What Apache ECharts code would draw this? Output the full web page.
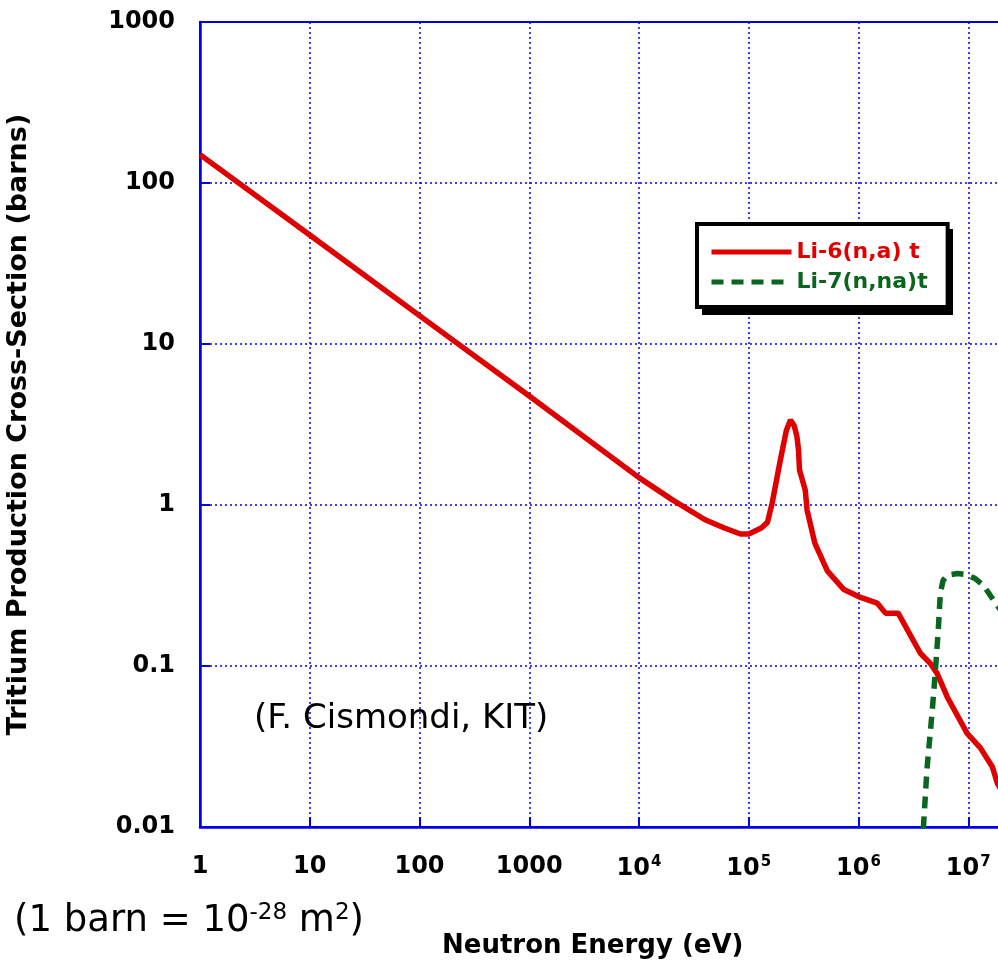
<!DOCTYPE html>
<html>
<head>
<meta charset="utf-8">
<script src="https://cdn.jsdelivr.net/npm/echarts@6/dist/echarts.min.js"></script>
<style>
  html, body { margin: 0; padding: 0; background: #fff; }
  #chart { width: 998px; height: 962px; }
</style>
</head>
<body>
<div id="chart"></div>
<script>
// Li-6(n,a)t cross-section (eV, barns)
var li6Energy = [1, 10, 100, 1000, 1e4, 2e4, 4e4, 6e4, 8.4e4, 1e5, 1.3e5, 1.48e5, 1.63e5, 1.94e5, 2.2e5, 2.4e5, 2.6e5, 2.75e5, 2.84e5, 2.9e5, 3.27e5, 3.4e5, 4.0e5, 5.2e5, 7.3e5, 1e6, 1.48e6, 1.76e6, 2.3e6, 3.66e6, 4.5e6, 5.2e6, 6.45e6, 9.8e6, 1.29e7, 1.66e7, 1.84e7, 2e7];
var li6Sigma = [150, 47.5, 15, 4.75, 1.48, 1.08, 0.81, 0.72, 0.66, 0.66, 0.72, 0.78, 1.02, 1.9, 2.9, 3.37, 3.1, 2.65, 2.2, 1.65, 1.24, 0.93, 0.58, 0.39, 0.30, 0.27, 0.246, 0.213, 0.213, 0.12, 0.104, 0.09, 0.064, 0.038, 0.031, 0.0236, 0.0187, 0.017];

// Li-7(n,n'a)t cross-section
var li7Energy = [3.9e6, 4.2e6, 4.7e6, 5.0e6, 5.33e6, 5.57e6, 5.9e6, 6.45e6, 8e6, 9.4e6, 1.15e7, 1.37e7, 1.77e7, 2e7];
var li7Sigma = [0.0098, 0.0226, 0.053, 0.09, 0.167, 0.284, 0.34, 0.367, 0.375, 0.37, 0.35, 0.318, 0.246, 0.22];

var xTickLabels = ['1', '10', '100', '1000', '10^4', '10^5', '10^6', '10^7', '10^8'];
var yTickLabels = ['0.01', '0.1', '1', '10', '100', '1000']; // 10^-2 .. 10^3

function pairs(xs, ys) {
  return xs.map(function (x, i) { return [x, ys[i]]; });
}

var blue = '#0000ee';
var red = '#e00000';
var green = '#0a661e';
var font = 'DejaVu Sans';

var myChart = echarts.init(document.getElementById('chart'));

myChart.setOption({
  backgroundColor: '#fff',
  animation: false,
  grid: {
    left: 200,
    top: 22,
    bottom: 135,
    right: -80,
    outerBoundsMode: 'none',
    containLabel: false,
    show: true,
    borderColor: blue,
    borderWidth: 2,
    backgroundColor: '#fff'
  },
  legend: {
    left: 697,
    top: 224,
    orient: 'vertical',
    backgroundColor: '#fff',
    borderColor: '#000',
    borderWidth: 4,
    borderRadius: 0,
    padding: [17, 20, 14, 12],
    itemWidth: 80,
    itemHeight: 14,
    itemGap: 8,
    itemStyle: { opacity: 0 },
    lineStyle: { width: 5 },
    textStyle: { fontFamily: font, fontWeight: 'bold', fontSize: 22 },
    data: [
      { name: 'Li-6(n,a) t', textStyle: { color: red } },
      { name: 'Li-7(n,na)t', textStyle: { color: green } }
    ]
  },
  xAxis: {
    type: 'log',
    logBase: 10,
    min: 1,
    max: 1e8,
    splitNumber: 8,
    axisLine: { lineStyle: { color: blue, width: 2.5 } },
    axisTick: { inside: true, length: 10, lineStyle: { color: blue, width: 2 } },
    minorTick: { show: false },
    splitLine: { show: true, lineStyle: { color: blue, width: 1.5, type: [2, 3] } },
    axisLabel: {
      margin: 28,
      color: '#000',
      fontFamily: font,
      fontWeight: 'bold',
      fontSize: 24,
      formatter: function (v) {
        var s = xTickLabels[Math.round(Math.log10(v))];
        if (s.indexOf('^') >= 0) {
          var p = s.split('^');
          return '{b|' + p[0] + '}{s|' + p[1] + '}';
        }
        return s;
      },
      rich: {
        b: { fontFamily: font, fontWeight: 'bold', fontSize: 24, color: '#000', verticalAlign: 'bottom' },
        s: { fontFamily: font, fontWeight: 'bold', fontSize: 15, color: '#000', verticalAlign: 'bottom', padding: [0, 0, 11, 1] }
      }
    }
  },
  yAxis: {
    type: 'log',
    logBase: 10,
    min: 0.01,
    max: 1000,
    splitNumber: 5,
    name: 'Tritium Production Cross-Section (barns)',
    nameLocation: 'middle',
    nameRotate: 90,
    nameGap: 168,
    nameTextStyle: { color: '#000', fontFamily: font, fontWeight: 'bold', fontSize: 27 },
    axisLine: { lineStyle: { color: blue, width: 2.5 } },
    axisTick: { inside: true, length: 10, lineStyle: { color: blue, width: 2 } },
    minorTick: { show: false },
    splitLine: { show: true, lineStyle: { color: blue, width: 1.5, type: [2, 3] } },
    axisLabel: {
      margin: 25,
      color: '#000',
      fontFamily: font,
      fontWeight: 'bold',
      fontSize: 24,
      formatter: function (v) {
        return yTickLabels[Math.round(Math.log10(v)) + 2];
      }
    }
  },
  graphic: [
    {
      // drop shadow behind the legend box
      type: 'rect',
      z: 3,
      shape: { x: 702, y: 229, width: 251, height: 86 },
      style: { fill: '#000' }
    },
    {
      type: 'text',
      left: 254,
      top: 702,
      style: { text: '(F. Cismondi, KIT)', font: '34px "DejaVu Sans"', fill: '#000' }
    },
    {
      type: 'text',
      left: 14,
      top: 902,
      style: {
        text: '(1 barn = 10{s|-28} m{s|2})',
        font: '37px "DejaVu Sans"',
        fill: '#000',
        rich: {
          s: { fontSize: 23, fontFamily: font, fill: '#000', verticalAlign: 'bottom', padding: [0, 0, 16, 0] }
        }
      }
    },
    {
      type: 'text',
      left: 442,
      top: 933,
      style: { text: 'Neutron Energy (eV)', font: 'bold 26px "DejaVu Sans"', fill: '#000' }
    }
  ],
  series: [
    {
      name: 'Li-6(n,a) t',
      type: 'line',
      symbol: 'none',
      data: pairs(li6Energy, li6Sigma),
      lineStyle: { color: red, width: 5.5 },
      itemStyle: { color: red }
    },
    {
      name: 'Li-7(n,na)t',
      type: 'line',
      symbol: 'none',
      data: pairs(li7Energy, li7Sigma),
      lineStyle: { color: green, width: 5.5, type: [12, 8] },
      itemStyle: { color: green }
    }
  ]
});
</script>
</body>
</html>
